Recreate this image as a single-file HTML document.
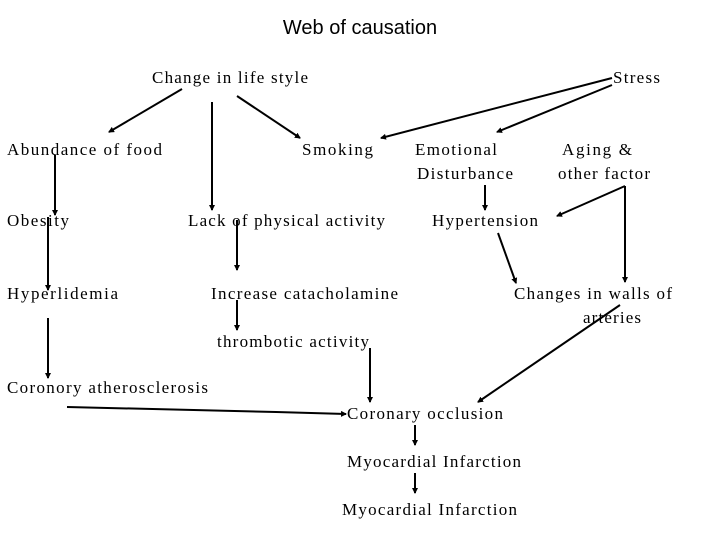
<!DOCTYPE html>
<html><head><meta charset="utf-8"><style>
html,body{margin:0;padding:0;background:#fff;}
svg{display:block;}
text{font-family:"Liberation Serif",serif;font-size:17px;fill:#000;}
.t{font-family:"Liberation Sans",sans-serif;font-size:20px;}
line,polyline{stroke:#000;stroke-width:2;fill:none;}
</style></head><body>
<svg width="720" height="540" viewBox="0 0 720 540" xmlns="http://www.w3.org/2000/svg">
<defs><marker id="a" markerWidth="6" markerHeight="6" refX="5" refY="3" orient="auto" markerUnits="userSpaceOnUse"><path d="M0,0 L6,3 L0,6 z" fill="#000"/></marker></defs>
<text class="t" x="360" y="34" text-anchor="middle">Web of causation</text>
<text x="152" y="83" textLength="156">Change in life style</text>
<text x="613" y="83" textLength="47">Stress</text>
<text x="7" y="155" textLength="155">Abundance of food</text>
<text x="302" y="155" textLength="71">Smoking</text>
<text x="415" y="155" textLength="82">Emotional</text>
<text x="417" y="179" textLength="96">Disturbance</text>
<text x="562" y="155" textLength="70">Aging &amp;</text>
<text x="558" y="179" textLength="92">other factor</text>
<text x="7" y="226" textLength="62">Obesity</text>
<text x="188" y="226" textLength="197">Lack of physical activity</text>
<text x="432" y="226" textLength="106">Hypertension</text>
<text x="7" y="299" textLength="111">Hyperlidemia</text>
<text x="211" y="299" textLength="187">Increase catacholamine</text>
<text x="514" y="299" textLength="158">Changes in walls of</text>
<text x="583" y="323" textLength="58">arteries</text>
<text x="217" y="347" textLength="152">thrombotic activity</text>
<text x="7" y="393" textLength="201">Coronory atherosclerosis</text>
<text x="347" y="419" textLength="156">Coronary occlusion</text>
<text x="347" y="467" textLength="174">Myocardial Infarction</text>
<text x="342" y="515" textLength="175">Myocardial Infarction</text>
<g marker-end="url(#a)">
<line x1="182" y1="89" x2="109" y2="132"/>
<line x1="212" y1="102" x2="212" y2="210"/>
<line x1="237" y1="96" x2="300" y2="138"/>
<line x1="612" y1="78" x2="381" y2="138"/>
<line x1="612" y1="85" x2="497" y2="132"/>
<line x1="55" y1="155" x2="55" y2="215"/>
<line x1="48" y1="217" x2="48" y2="290"/>
<line x1="237" y1="220" x2="237" y2="270"/>
<line x1="485" y1="185" x2="485" y2="210"/>
<line x1="625" y1="186" x2="557" y2="216"/>
<line x1="625" y1="186" x2="625" y2="282"/>
<line x1="498" y1="233" x2="516" y2="283"/>
<line x1="48" y1="318" x2="48" y2="378"/>
<line x1="237" y1="300" x2="237" y2="330"/>
<line x1="370" y1="348" x2="370" y2="402"/>
<line x1="620" y1="305" x2="478" y2="402"/>
<polyline points="67,407 276,412 346,414"/>
<line x1="415" y1="425" x2="415" y2="445"/>
<line x1="415" y1="473" x2="415" y2="493"/>
</g>
</svg>
</body></html>
